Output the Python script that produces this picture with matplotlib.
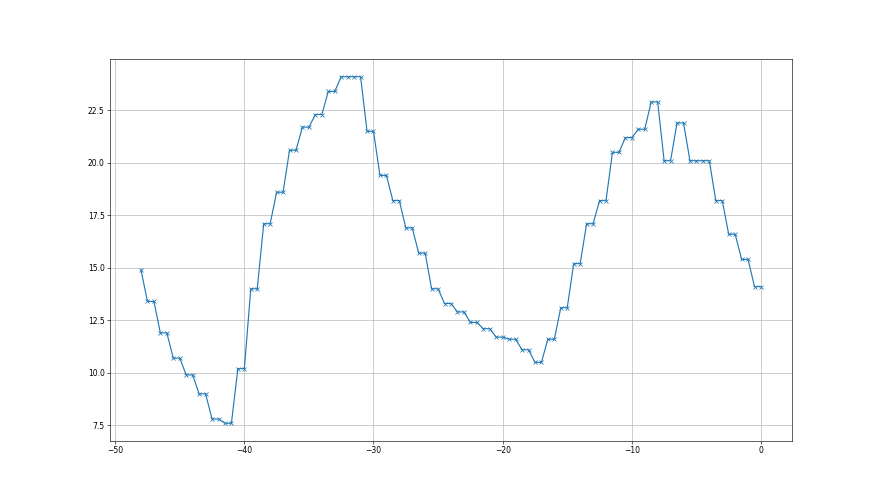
import numpy as np
import matplotlib
matplotlib.use("Agg")
import matplotlib.pyplot as plt

# first reading at x = -48, then each later reading is held for two half-steps
first_x = -48
first_value = 14.9
pair_steps = list(range(-47, 1))
pair_values = [13.4, 11.9, 10.7, 9.9, 9.0, 7.8, 7.6, 10.2, 14.0, 17.1,
               18.6, 20.6, 21.7, 22.3, 23.4, 24.1, 24.1, 21.5, 19.4, 18.2,
               16.9, 15.7, 14.0, 13.3, 12.9, 12.4, 12.1, 11.7, 11.6, 11.1,
               10.5, 11.6, 13.1, 15.2, 17.1, 18.2, 20.5, 21.2, 21.6, 22.9,
               20.1, 21.9, 20.1, 20.1, 18.2, 16.6, 15.4, 14.1]

xs = [first_x]
ys = [first_value]
for step, val in zip(pair_steps, pair_values):
    xs += [step - 0.5, step]
    ys += [val, val]

fig, ax = plt.subplots(figsize=(16, 9), dpi=55)
ax.plot(xs, ys, marker='x', color='C0')
ax.grid(True)

fig.savefig("out.png", dpi=55, facecolor='white')
